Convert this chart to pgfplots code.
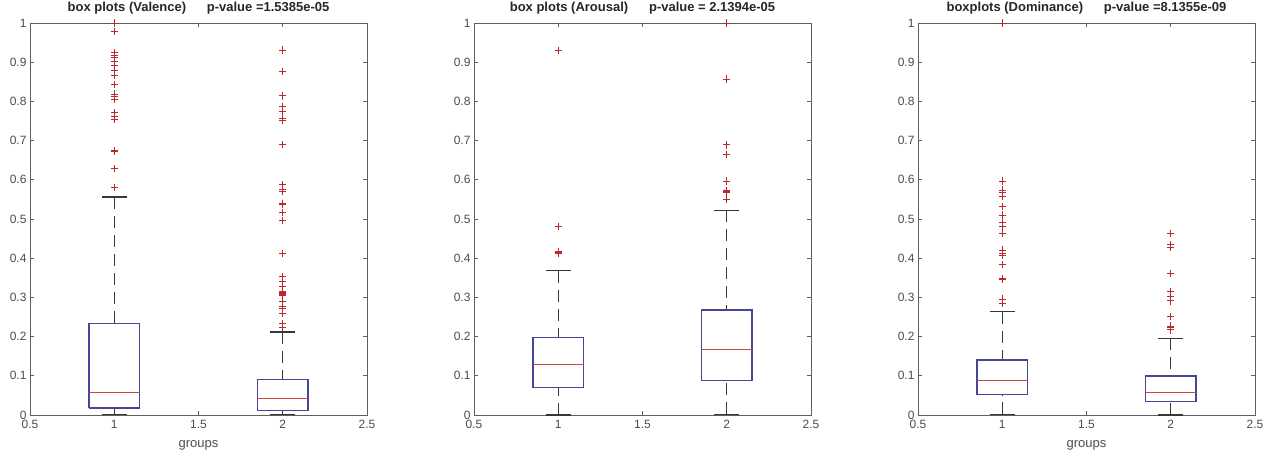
\documentclass[border=0pt]{standalone}
\usepackage{pgfplots}
\pgfplotsset{compat=1.18}
\usepackage{fontspec}
\setmainfont{Liberation Sans}
\definecolor{boxc}{RGB}{70,70,150}
\definecolor{medc}{RGB}{205,70,70}
\definecolor{outc}{RGB}{190,40,45}
\definecolor{whc}{RGB}{55,55,55}
\definecolor{axc}{RGB}{95,95,95}
\definecolor{txc}{RGB}{75,75,75}
\newcommand{\mybp}[8]{%
  \addplot[whc, line width=1.3pt, dash pattern=on 12pt off 7pt, mark=-, mark size=12.6pt, mark options={solid}, mark indices={1}] coordinates {(#1,#8) (#1,#7)};
  \addplot[whc, line width=1.3pt, dash pattern=on 12pt off 7pt, mark=-, mark size=12.6pt, mark options={solid}, mark indices={1}] coordinates {(#1,#4) (#1,#5)};
  \addplot[boxc, line width=1.5pt, line join=miter] coordinates {(#2,#5) (#3,#5) (#3,#7) (#2,#7) (#2,#5)};
  \addplot[medc, line width=1pt] coordinates {(#2,#6) (#3,#6)};
}
\pgfplotsset{
  myax/.style={
    scale only axis, width=337pt, height=392pt, anchor=south west,
    xmin=0.5, xmax=2.5, ymin=0, ymax=1,
    xtick={0.5,1,1.5,2,2.5}, ytick={0,0.1,...,1.0},
    tick align=inside, major tick length=4pt,
    axis line style={axc, line width=0.9pt},
    every tick/.style={axc, line width=0.8pt},
    tick label style={font=\fontsize{12}{14}\selectfont, text=txc},
    /pgf/number format/assume math mode=true,
    xticklabel style={yshift=-2pt},
    title style={at={(0.5,1)}, anchor=base, yshift=5pt, font=\bfseries\fontsize{13}{15}\selectfont, text=black!85},
    xlabel style={at={(axis description cs:0.5,0)}, anchor=base, yshift=-32pt, font=\fontsize{13}{15}\selectfont, text=txc},
  },
  outl/.style={only marks, mark=+, mark size=3.6pt, outc, mark options={line width=0.9pt}},
}
\begin{document}
\begin{tikzpicture}[x=1pt,y=1pt]
\useasboundingbox (0,0) rectangle (1266,456);
% ---- Valence
\begin{axis}[myax, at={(30pt,41pt)}, title={box plots (Valence)\hspace{1.6em}p-value =1.5385e-05}, xlabel={groups}]
\mybp{1}{0.85}{1.15}{0.002}{0.018}{0.057}{0.233}{0.556}
\mybp{2}{1.85}{2.15}{0.002}{0.011}{0.043}{0.091}{0.212}
\addplot[outl] coordinates {(1,1.0) (1,0.978) (1,0.925) (1,0.918) (1,0.912) (1,0.901) (1,0.891) (1,0.880) (1,0.867) (1,0.844) (1,0.819) (1,0.812) (1,0.804) (1,0.771) (1,0.761) (1,0.755) (1,0.674) (1,0.672) (1,0.629) (1,0.581)};
\addplot[outl] coordinates {(2,0.931) (2,0.876) (2,0.814) (2,0.788) (2,0.774) (2,0.757) (2,0.751) (2,0.690) (2,0.588) (2,0.576) (2,0.571) (2,0.540) (2,0.538) (2,0.517) (2,0.497) (2,0.411) (2,0.353) (2,0.340) (2,0.329) (2,0.315) (2,0.312) (2,0.310) (2,0.308) (2,0.306) (2,0.289) (2,0.278) (2,0.272) (2,0.258) (2,0.234) (2,0.224)};
\end{axis}
% ---- Arousal
\begin{axis}[myax, at={(474pt,41pt)}, title={box plots (Arousal)\hspace{1.6em}p-value = 2.1394e-05}]
\mybp{1}{0.85}{1.15}{0.0}{0.070}{0.129}{0.198}{0.368}
\mybp{2}{1.85}{2.15}{0.002}{0.088}{0.166}{0.268}{0.522}
\addplot[outl] coordinates {(1,0.929) (1,0.480) (1,0.416) (1,0.414) (1,0.412) (1,0.411)};
\addplot[outl] coordinates {(2,1.0) (2,0.857) (2,0.689) (2,0.665) (2,0.597) (2,0.572) (2,0.570) (2,0.568) (2,0.549)};
\end{axis}
% ---- Dominance
\begin{axis}[myax, at={(918pt,41pt)}, title={boxplots (Dominance)\hspace{1.6em}p-value =8.1355e-09}, xlabel={groups}]
\mybp{1}{0.85}{1.15}{0.002}{0.052}{0.088}{0.140}{0.264}
\mybp{2}{1.85}{2.15}{0.0}{0.035}{0.058}{0.100}{0.196}
\addplot[outl] coordinates {(1,1.0) (1,0.597) (1,0.574) (1,0.567) (1,0.557) (1,0.531) (1,0.510) (1,0.491) (1,0.480) (1,0.463) (1,0.421) (1,0.412) (1,0.406) (1,0.383) (1,0.349) (1,0.347) (1,0.296) (1,0.285)};
\addplot[outl] coordinates {(2,0.462) (2,0.434) (2,0.428) (2,0.361) (2,0.315) (2,0.302) (2,0.291) (2,0.251) (2,0.227) (2,0.224) (2,0.217)};
\end{axis}
\end{tikzpicture}
\end{document}
